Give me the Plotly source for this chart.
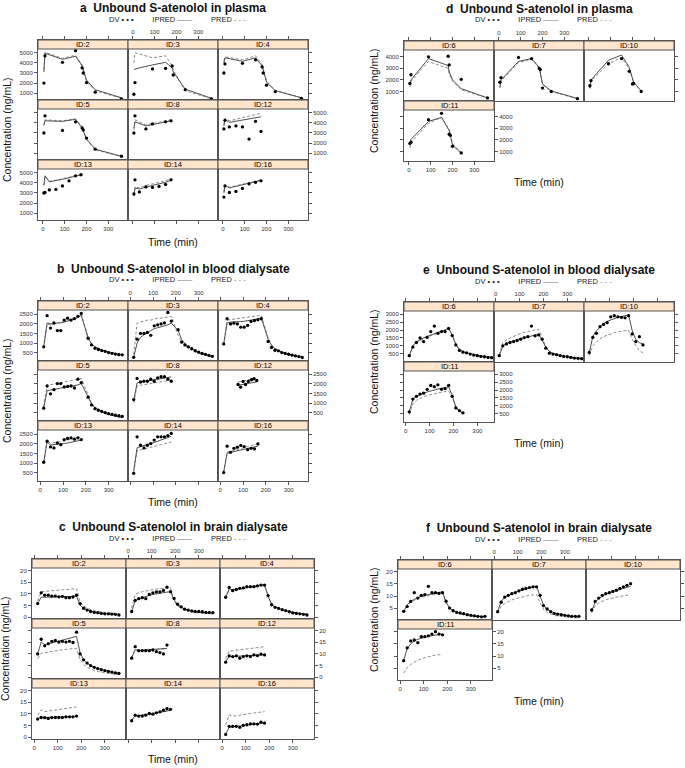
import plotly.graph_objects as go

# ------------------------------------------------------------------
# DATA  (time in min; concentration ng/mL)
# ------------------------------------------------------------------
t_dial_24 = [15, 30, 45, 60, 75, 90, 105, 120, 135, 150, 165, 180,
             195, 210, 225, 240, 255, 270, 285, 300, 315, 330, 345, 360]
t_dial_23 = [15, 30, 45, 60, 75, 90, 105, 120, 135, 150, 165, 180,
             210, 225, 240, 255, 270, 285, 300, 315, 330, 345, 360]
t_dial_16 = [15, 30, 45, 60, 75, 90, 105, 120, 135, 150, 165, 180, 195, 210, 225, 240]
t_dial_12 = [15, 30, 45, 60, 75, 90, 105, 120, 135, 150, 165, 180]
t_dial_11 = [15, 30, 45, 60, 75, 90, 105, 120, 135, 150, 165]

# ---- (a) plasma ----
a2_t = [5, 10, 90, 150, 180, 185, 200, 240, 360]
a2_dv = [2000, 4700, 4050, 5200, 3500, 3000, 2050, 1100, 450]
a2_ip = [3100, 4950, 4350, 4650, 3700, 3400, 2300, 1350, 550]
a2_pr = [3300, 5050, 4450, 4750, 3800, 3300, 2150, 1250, 500]
a3_t = [5, 10, 90, 150, 180, 185, 240, 360]
a3_dv = [900, 2050, 3400, 3450, 3700, 2800, 1350, 450]
a3_ip = [3300, 3400, 3800, 4050, 3500, 3100, 1400, 500]
a3_pr = [4000, 5000, 4500, 4700, 3700, 3300, 1250, 450]
a4_t = [5, 10, 90, 150, 180, 185, 200, 240, 360]
a4_dv = [3000, 3900, 3950, 4300, 3600, 3000, 1800, 1150, 500]
a4_ip = [4000, 4500, 4150, 4500, 3700, 3300, 2100, 1250, 550]
a4_pr = [4200, 4600, 4300, 4700, 3800, 3400, 2200, 1300, 550]
a5_t = [5, 10, 90, 150, 180, 185, 200, 240, 360]
a5_dv = [3000, 4700, 3250, 4100, 3500, 3300, 2500, 1400, 700]
a5_ip = [3800, 4200, 4150, 4350, 3500, 3200, 2400, 1400, 700]
a5_pr = [3700, 4300, 4200, 4400, 3600, 3250, 2350, 1350, 650]
a8_t = [5, 10, 60, 90, 150, 175]
a8_dv = [3000, 4700, 3400, 3900, 4100, 4200]
a8_ip = [3500, 4100, 3700, 3850, 4100, 4200]
a8_pr = [3300, 4300, 3800, 3950, 4200, 4300]
a_inf_t = [5, 10, 30, 60, 90, 120, 150, 175]
a12_dv = [3400, 4250, 3600, 3700, 3600, 2400, 4150, 3150]
a12_ip = [3700, 4350, 4050, 4150, 4250, 4350, 4500, 4600]
a12_pr = [3800, 4450, 4200, 4350, 4500, 4650, 4800, 4950]
a13_dv = [3000, 3050, 3300, 3350, 3700, 4200, 4700, 4800]
a13_ip = [3800, 4700, 4100, 4200, 4350, 4500, 4650, 4800]
a13_pr = [3700, 4600, 4150, 4250, 4400, 4550, 4700, 4850]
a14_dv = [2900, 4300, 3100, 3600, 3550, 3650, 3850, 4300]
a14_ip = [2700, 3500, 3400, 3600, 3750, 3900, 4050, 4250]
a14_pr = [2800, 3600, 3500, 3750, 3900, 4050, 4200, 4400]
a16_dv = [2600, 3700, 3050, 3150, 3450, 3900, 4050, 4200]
a16_ip = [3000, 3800, 3500, 3650, 3800, 3950, 4100, 4250]
a16_pr = [3100, 3750, 3550, 3700, 3850, 4000, 4150, 4300]

# ---- (d) plasma ----
d6_t = [5, 10, 90, 180, 185, 200, 240, 360]
d6_dv = [1700, 2450, 4000, 4050, 3300, None, 2050, 450]
d6_ip = [1600, 2000, 3850, 3250, 2700, 2000, 1250, 450]
d6_pr = [1400, 1900, 3600, 3000, 2500, 1900, 1150, 450]
d7_t = [5, 10, 90, 150, 185, 190, 200, 240, 360]
d7_dv = [1800, 2200, 3950, 3850, 3000, 2900, 1300, 1000, 380]
d7_ip = [1400, 2000, 3600, 3850, 3100, 2500, 1650, 1050, 400]
d7_pr = [1300, 1900, 3500, 3800, 3000, 2400, 1600, 1000, 380]
d10_t = [5, 10, 90, 150, 185, 200, 205, 240]
d10_dv = [1500, 1950, 3400, 3850, 2750, 1650, 1700, 1000]
d10_ip = [1300, 2000, 3700, 4150, 3100, 2000, 1800, 1050]
d10_pr = [1250, 1900, 3400, 3950, 2950, 2000, 1800, 1050]
d11_t = [5, 10, 90, 150, 185, 190, 200, 240]
d11_dv = [1700, 1800, 3750, 4300, 2500, 2400, 1450, 880]
d11_ip = [1700, 2050, 3600, 3950, 2800, 2400, 1550, 850]
d11_pr = [1300, 1800, 3450, 3950, 2900, 2500, 1700, 900]

# ---- (b) blood dialysate ----
b2_dv = [800, 2430, 1780, 2050, 1650, 1650, 2200, 2300, 2200, 2280, 2400, 2550, 1250, 900, 720, 660, 600, 560, 500, 460, 420, 390, 380]
b2_ip = [800, 2050, 2000, 2000, 2050, 2050, 2100, 2150, 2200, 2250, 2350, 2450, 1250, 950, 800, 700, 630, 570, 520, 480, 440, 410, 390]
b2_pr = [750, 2000, 1950, 2000, 2050, 2100, 2150, 2200, 2250, 2300, 2400, 2500, 1300, 950, 800, 700, 620, 560, 510, 470, 430, 400, 380]
b3_dv = [250, 1200, 1500, 1500, 1550, 1400, 1900, 1950, 2000, 2050, 2600, 2150, 1700, 1050, 900, 800, 700, 600, 520, 450, 400, 350, 300]
b3_ip = [250, 1000, 1300, 1450, 1550, 1650, 1750, 1800, 1850, 1900, 1950, 2050, 1650, 1200, 950, 800, 680, 580, 500, 440, 390, 350, 310]
b3_pr = [400, 2050, 2100, 2150, 2200, 2200, 2250, 2300, 2300, 2350, 2350, 2400, 1400, 1050, 850, 700, 600, 520, 460, 410, 370, 330, 300]
b4_dv = [950, 2270, 2000, 2040, 2000, 1830, 1830, 1920, 2130, 2180, 2220, 2270, 1080, 770, 620, 590, 500, 450, 410, 360, 320, 290, 240]
b4_ip = [950, 2050, 2100, 2100, 2100, 2120, 2140, 2160, 2200, 2230, 2260, 2320, 1200, 880, 700, 600, 520, 460, 410, 360, 320, 290, 260]
b4_pr = [900, 2200, 2230, 2260, 2280, 2300, 2320, 2350, 2370, 2400, 2420, 2450, 1250, 900, 720, 620, 540, 470, 420, 370, 330, 300, 270]
b5_dv = [730, 1890, 1480, 1700, 2020, 2020, 1840, 1870, 1890, 1790, 2250, 2070, 1300, 900, 700, 620, 560, 500, 440, 400, 360, 330, 300]
b5_ip = [730, 1650, 1680, 1710, 1740, 1770, 1800, 1830, 1860, 1900, 1950, 2020, 1350, 950, 750, 620, 520, 450, 390, 340, 300, 270, 240]
b5_pr = [800, 1930, 1960, 1990, 2020, 2050, 2080, 2110, 2150, 2190, 2240, 2290, 1450, 1000, 780, 640, 540, 460, 400, 350, 310, 280, 250]
b8_dv = [1180, 2290, 2100, 2140, 2140, 2250, 2140, 2320, 2380, 2380, 2250, 2140]
b8_ip = [1130, 2050, 2100, 2130, 2160, 2190, 2220, 2250, 2280, 2310, 2340, 2370]
b8_pr = [1000, 1900, 1930, 1960, 1990, 2020, 2050, 2080, 2110, 2140, 2170, 2200]
b12_t = [78, 89, 100, 111, 123, 137, 148, 160]
b12_dv = [1970, 1830, 2130, 1970, 2130, 2220, 2270, 2180]
b12_ip = [1930, 1960, 1980, 2000, 2030, 2060, 2080, 2100]
b12_pr = [2100, 2130, 2160, 2190, 2220, 2250, 2290, 2320]
b13_dv = [1040, 2140, 1840, 1790, 2050, 1960, 2230, 2290, 2320, 2250, 2320, 2230]
b13_ip = [1040, 2100, 1950, 1960, 1980, 2000, 2020, 2050, 2080, 2110, 2150, 2200]
b13_pr = [1000, 2200, 2030, 2050, 2080, 2120, 2160, 2200, 2240, 2280, 2330, 2380]
b14_dv = [460, 2370, 1930, 1790, 1930, 2020, 2200, 2370, 2370, 2370, 2430, 2550]
b14_ip = [600, 1800, 1850, 1900, 1960, 2020, 2080, 2140, 2200, 2260, 2320, 2400]
b14_pr = [500, 1650, 1690, 1730, 1770, 1810, 1850, 1900, 1950, 2000, 2050, 2100]
b16_dv = [500, 1880, 1560, 1770, 1830, 1920, 1860, 1700, 1770, 1740, 2000]
b16_ip = [550, 1510, 1560, 1600, 1640, 1680, 1720, 1760, 1800, 1840, 1880]
b16_pr = [500, 1560, 1610, 1660, 1710, 1760, 1810, 1860, 1910, 1960, 2010]

# ---- (e) blood dialysate ----
e6_dv = [380, 920, 1210, 1500, 1270, 1540, 1900, 2250, 1790, 1900, 1900, 2100, 1650, 1060, 710, 600, 560, 480, 420, 380, 330, 310, 270, 250]
e6_ip = [380, 1000, 1250, 1400, 1500, 1600, 1700, 1780, 1850, 1920, 2000, 2100, 1700, 1100, 780, 640, 560, 500, 450, 400, 360, 330, 300, 280]
e6_pr = [350, 950, 1200, 1350, 1450, 1550, 1650, 1720, 1800, 1870, 1950, 2050, 1650, 1050, 750, 620, 540, 480, 430, 390, 350, 320, 290, 270]
e7_dv = [380, 1000, 1120, 1210, 1270, 1330, 1420, 1520, 1580, 2250, 1630, 1690, 1420, 850, 540, 480, 440, 380, 330, 310, 270, 230, 210, 190]
e7_ip = [380, 1000, 1150, 1250, 1320, 1400, 1460, 1520, 1580, 1630, 1680, 1730, 1350, 900, 650, 520, 450, 400, 350, 310, 280, 250, 230, 210]
e7_pr = [420, 1200, 1380, 1500, 1600, 1700, 1780, 1850, 1910, 1960, 2010, 2040, 1500, 950, 650, 500, 420, 360, 310, 270, 240, 210, 190, 170]
e10_dv = [580, 1540, 1790, 2210, 2350, 2460, 2830, 2900, 2830, 2800, 2770, 2900, 1750, 1270, 1580, 1060]
e10_ip = [550, 1600, 1950, 2200, 2400, 2550, 2650, 2750, 2800, 2850, 2900, 2950, 1950, 1400, 1200, 1100]
e10_pr = [400, 1000, 1250, 1450, 1580, 1680, 1760, 1830, 1880, 1930, 1960, 1980, 1400, 1000, 700, 550]
e11_dv = [620, 1430, 1600, 1740, 1800, 2040, 2290, 2210, 2330, 2040, 2090, 2290, 1600, 870, 700, 560]
e11_ip = [620, 1400, 1600, 1720, 1800, 1880, 1950, 2010, 2060, 2110, 2160, 2200, 1650, 950, 700, 550]
e11_pr = [450, 1130, 1350, 1480, 1580, 1650, 1720, 1770, 1820, 1860, 1900, 1940, 1550, 900, 650, 500]

# ---- (c) brain dialysate ----
c2_dv = [5.9, 10.5, 9.5, 9.5, 9.1, 9.1, 8.8, 9.0, 8.4, 8.4, 8.7, 9.5, 5.9, 3.9, 3.1, 2.5, 2.1, 2.0, 1.7, 1.5, 1.5, 1.4, 1.3, 1.0]
c2_ip = [5.9, 8.6, 8.6, 8.7, 8.7, 8.7, 8.8, 8.8, 8.9, 8.9, 9.0, 9.1, 5.2, 3.9, 3.1, 2.6, 2.2, 1.9, 1.7, 1.5, 1.4, 1.3, 1.2, 1.1]
c2_pr = [7.0, 10.9, 11.1, 11.3, 11.4, 11.6, 11.7, 11.8, 11.9, 12.0, 12.2, 12.3, 6.5, 4.9, 3.9, 3.3, 2.8, 2.5, 2.2, 2.0, 1.9, 1.8, 1.7, 1.6]
c3_dv = [2.5, 7.3, 8.0, 8.4, 8.0, 9.8, 10.5, 10.9, 10.9, 11.5, 12.9, 11.0, 8.1, 5.6, 4.5, 3.5, 3.1, 2.8, 2.5, 2.5, 2.4, 2.1, 2.1, 2.0]
c3_ip = [2.5, 7.0, 7.9, 8.5, 9.0, 9.4, 9.8, 10.1, 10.4, 10.6, 10.8, 10.9, 7.5, 5.5, 4.3, 3.5, 3.0, 2.6, 2.3, 2.1, 2.0, 1.9, 1.8, 1.8]
c3_pr = [4.0, 9.8, 10.6, 11.0, 11.3, 11.6, 11.9, 12.1, 12.3, 12.5, 12.6, 12.7, 7.0, 4.9, 3.8, 3.1, 2.6, 2.2, 2.0, 1.8, 1.6, 1.5, 1.5, 1.4]
c4_dv = [8.6, 12.8, 11.4, 11.9, 12.4, 12.6, 13.1, 13.1, 13.1, 13.5, 13.8, 13.8, 9.3, 5.4, 4.3, 3.8, 3.3, 2.9, 2.4, 1.9, 1.7, 1.5, 1.3, 1.0]
c4_ip = [8.6, 12.2, 11.8, 12.0, 12.3, 12.6, 12.9, 13.1, 13.3, 13.5, 13.7, 13.9, 9.0, 5.6, 4.4, 3.7, 3.2, 2.8, 2.4, 2.1, 1.9, 1.7, 1.5, 1.3]
c4_pr = [8.2, 11.6, 11.6, 11.9, 12.2, 12.5, 12.8, 13.0, 13.2, 13.4, 13.6, 13.8, 9.2, 5.8, 4.5, 3.8, 3.3, 2.8, 2.4, 2.1, 1.8, 1.6, 1.4, 1.3]
c5_dv = [10.0, 16.3, 13.5, 14.4, 15.4, 15.8, 15.1, 15.4, 15.1, 15.4, 14.9, 19.3, 10.0, 7.5, 6.1, 5.0, 4.3, 3.75, 3.3, 2.9, 2.5, 2.2, 1.9, 1.7]
c5_ip = [10.0, 15.1, 13.9, 14.3, 14.6, 14.9, 15.3, 15.6, 16.0, 16.4, 16.9, 17.5, 10.5, 7.6, 6.0, 5.0, 4.3, 3.7, 3.3, 2.9, 2.6, 2.3, 2.1, 1.9]
c5_pr = [8.0, 10.3, 10.6, 10.9, 11.2, 11.4, 11.6, 11.8, 12.0, 12.1, 12.3, 12.4, 7.5, 5.5, 4.3, 3.5, 2.9, 2.5, 2.2, 1.9, 1.7, 1.5, 1.4, 1.3]
c8_dv = [8.2, 13.1, 11.4, 11.4, 11.4, 11.4, 11.7, 11.0, 10.6, 10.0, 13.8]
c8_ip = [8.5, 11.9, 11.5, 11.6, 11.7, 11.8, 11.9, 12.0, 12.1, 12.2, 12.4]
c8_pr = [8.3, 11.7, 11.4, 11.5, 11.6, 11.7, 11.8, 11.9, 12.0, 12.1, 12.2]
c12_dv = [6.5, 9.2, 8.9, 9.2, 8.2, 8.9, 9.2, 8.9, 9.6, 9.3, 9.9, 9.6]
c12_ip = [6.8, 8.9, 8.9, 9.0, 9.0, 9.1, 9.2, 9.3, 9.4, 9.5, 9.6, 9.7]
c12_pr = [8.0, 11.3, 11.4, 11.6, 11.8, 12.0, 12.2, 12.4, 12.6, 12.8, 12.9, 13.1]
c13_dv = [7.8, 8.5, 8.4, 8.1, 8.4, 8.5, 8.5, 8.5, 8.8, 8.8, 8.8, 9.1]
c13_ip = [8.0, 8.6, 8.5, 8.5, 8.6, 8.6, 8.7, 8.7, 8.8, 8.8, 8.9, 9.0]
c13_pr = [9.5, 11.8, 11.0, 11.2, 11.4, 11.6, 11.9, 12.1, 12.4, 12.6, 12.8, 13.0]
c14_dv = [7.1, 9.5, 9.1, 9.1, 9.5, 10.2, 9.9, 10.5, 10.9, 11.6, 12.3, 12.0]
c14_ip = [7.3, 9.3, 9.3, 9.5, 9.7, 9.9, 10.2, 10.4, 10.7, 11.0, 11.3, 11.6]
c14_pr = [7.1, 9.2, 9.2, 9.4, 9.6, 9.8, 10.1, 10.3, 10.6, 10.9, 11.2, 11.5]
c16_dv = [1.25, 4.7, 4.7, 4.7, 4.3, 5.1, 5.4, 5.8, 5.8, 5.7, 6.5, 6.1]
c16_ip = [1.3, 4.3, 4.5, 4.7, 4.9, 5.1, 5.3, 5.5, 5.7, 5.8, 6.0, 6.1]
c16_pr = [5.4, 9.6, 9.0, 9.3, 9.5, 9.8, 10.0, 10.2, 10.4, 10.6, 10.8, 11.0]

# ---- (f) brain dialysate ----
f6_dv = [3.75, 5.7, 7.8, 11.4, 9.2, 10.3, 10.6, 14.0, 11.4, 11.4, 11.1, 11.4, 7.9, 5.1, 4.0, 3.3, 3.1, 2.8, 2.4, 2.1, 1.9, 1.7, 1.5, 1.7]
f6_ip = [3.6, 6.4, 7.9, 8.8, 9.4, 9.9, 10.3, 10.7, 11.0, 11.3, 11.5, 11.7, 7.5, 5.2, 4.0, 3.3, 2.8, 2.5, 2.2, 2.0, 1.8, 1.7, 1.6, 1.5]
f6_pr = [3.3, 6.0, 7.5, 8.4, 9.0, 9.5, 9.9, 10.2, 10.5, 10.8, 11.0, 11.2, 7.3, 5.0, 3.9, 3.2, 2.8, 2.4, 2.1, 1.9, 1.7, 1.6, 1.5, 1.4]
f7_dv = [3.6, 7.5, 9.6, 10.3, 11.0, 11.4, 12.1, 12.8, 13.1, 13.5, 13.8, 13.8, 10.3, 6.1, 4.7, 3.6, 2.9, 2.6, 2.4, 2.1, 1.9, 1.7, 1.7, 1.7]
f7_ip = [3.7, 7.8, 9.5, 10.4, 11.0, 11.6, 12.1, 12.6, 13.0, 13.4, 13.7, 14.0, 10.0, 6.2, 4.6, 3.7, 3.1, 2.7, 2.4, 2.1, 1.9, 1.7, 1.6, 1.5]
f7_pr = [3.0, 5.8, 7.0, 7.8, 8.4, 8.9, 9.3, 9.7, 10.0, 10.3, 10.5, 10.7, 7.2, 4.5, 3.3, 2.6, 2.1, 1.8, 1.6, 1.4, 1.3, 1.2, 1.1, 1.0]
f10_dv = [4.3, 7.8, 9.2, 10.3, 11.0, 11.4, 11.9, 12.4, 13.1, 13.8, 14.4, 15.1]
f10_ip = [4.0, 7.5, 9.0, 10.0, 10.8, 11.4, 11.9, 12.4, 12.9, 13.3, 13.6, 13.9]
f10_pr = [3.2, 6.0, 7.2, 7.9, 8.5, 8.9, 9.3, 9.6, 9.9, 10.1, 10.3, 10.5]
f11_dv = [8.1, 13.4, 16.2, 16.6, 15.5, 18.0, 18.0, 18.3, 19.0, 20.0, 19.0, 18.7]
f11_ip = [8.1, 13.1, 15.0, 16.2, 16.9, 17.4, 17.8, 18.1, 18.4, 18.7, 18.9, 19.0]
f11_pr = [3.0, 5.3, 6.6, 7.6, 8.3, 8.9, 9.4, 9.8, 10.1, 10.4, 10.6, 10.7]

# tick labels
x_ticks = [0, 100, 200, 300]
yt_a = [1000, 2000, 3000, 4000, 5000]
yt_d = [1000, 2000, 3000, 4000]
yt_b = [500, 1000, 1500, 2000, 2500]
yt_e = [500, 1000, 1500, 2000, 2500, 3000]
yt_c = [0, 5, 10, 15, 20]
yt_f = [5, 10, 15, 20]

# ------------------------------------------------------------------
# LAYOUT / STYLE
# ------------------------------------------------------------------
W, H = 685, 768
FONT = "Arial, Liberation Sans, Helvetica, sans-serif"
LINE = "#555555"
STRIP = "#FFE5CC"
DV_C, IP_C, PR_C = "#000000", "#505050", "#8c8c8c"
SH, RH = 9, 60  # strip height, row height (px)

groups = [
    dict(letter="a", name="Unbound S-atenolol in plasma", L=38, CW=90, S0=40, kind="3x3",
         yr=(330, 5370), yt=yt_a, xr=(-22, 390), ylx=7, tgap=22,
         panels=[("ID:2", a2_t, a2_dv, a2_ip, a2_pr, 0, 0), ("ID:3", a3_t, a3_dv, a3_ip, a3_pr, 0, 1),
                 ("ID:4", a4_t, a4_dv, a4_ip, a4_pr, 0, 2), ("ID:5", a5_t, a5_dv, a5_ip, a5_pr, 1, 0),
                 ("ID:8", a8_t, a8_dv, a8_ip, a8_pr, 1, 1), ("ID:12", a_inf_t, a12_dv, a12_ip, a12_pr, 1, 2),
                 ("ID:13", a_inf_t, a13_dv, a13_ip, a13_pr, 2, 0), ("ID:14", a_inf_t, a14_dv, a14_ip, a14_pr, 2, 1),
                 ("ID:16", a_inf_t, a16_dv, a16_ip, a16_pr, 2, 2)]),
    dict(letter="d", name="Unbound S-atenolol in plasma", L=404, CW=90, S0=41, kind="2row",
         yr=(180, 4590), yt=yt_d, xr=(-22, 390), ylx=374, tgap=21,
         panels=[("ID:6", d6_t, d6_dv, d6_ip, d6_pr, 0, 0), ("ID:7", d7_t, d7_dv, d7_ip, d7_pr, 0, 1),
                 ("ID:10", d10_t, d10_dv, d10_ip, d10_pr, 0, 2), ("ID:11", d11_t, d11_dv, d11_ip, d11_pr, 1, 0)]),
    dict(letter="b", name="Unbound S-atenolol in blood dialysate", L=38, CW=90, S0=301, kind="3x3",
         yr=(56, 2730), yt=yt_b, xr=(-10, 385), ylx=7, tgap=21,
         panels=[("ID:2", t_dial_23, b2_dv, b2_ip, b2_pr, 0, 0), ("ID:3", t_dial_23, b3_dv, b3_ip, b3_pr, 0, 1),
                 ("ID:4", t_dial_23, b4_dv, b4_ip, b4_pr, 0, 2), ("ID:5", t_dial_23, b5_dv, b5_ip, b5_pr, 1, 0),
                 ("ID:8", t_dial_12, b8_dv, b8_ip, b8_pr, 1, 1), ("ID:12", b12_t, b12_dv, b12_ip, b12_pr, 1, 2),
                 ("ID:13", t_dial_12, b13_dv, b13_ip, b13_pr, 2, 0), ("ID:14", t_dial_12, b14_dv, b14_ip, b14_pr, 2, 1),
                 ("ID:16", t_dial_11, b16_dv, b16_ip, b16_pr, 2, 2)]),
    dict(letter="e", name="Unbound S-atenolol in blood dialysate", L=404, CW=90, S0=302, kind="2row",
         yr=(-20, 3200), yt=yt_e, xr=(-7, 370), ylx=374, tgap=21,
         panels=[("ID:6", t_dial_24, e6_dv, e6_ip, e6_pr, 0, 0), ("ID:7", t_dial_24, e7_dv, e7_ip, e7_pr, 0, 1),
                 ("ID:10", t_dial_16, e10_dv, e10_ip, e10_pr, 0, 2), ("ID:11", t_dial_16, e11_dv, e11_ip, e11_pr, 1, 0)]),
    dict(letter="c", name="Unbound S-atenolol in brain dialysate", L=32, CW=94, S0=559, kind="3x3",
         yr=(-0.7, 21.1), yt=yt_c, xr=(-9, 390), ylx=5, tgap=20,
         panels=[("ID:2", t_dial_24, c2_dv, c2_ip, c2_pr, 0, 0), ("ID:3", t_dial_24, c3_dv, c3_ip, c3_pr, 0, 1),
                 ("ID:4", t_dial_24, c4_dv, c4_ip, c4_pr, 0, 2), ("ID:5", t_dial_24, c5_dv, c5_ip, c5_pr, 1, 0),
                 ("ID:8", t_dial_11, c8_dv, c8_ip, c8_pr, 1, 1), ("ID:12", t_dial_12, c12_dv, c12_ip, c12_pr, 1, 2),
                 ("ID:13", t_dial_12, c13_dv, c13_ip, c13_pr, 2, 0), ("ID:14", t_dial_12, c14_dv, c14_ip, c14_pr, 2, 1),
                 ("ID:16", t_dial_12, c16_dv, c16_ip, c16_pr, 2, 2)]),
    dict(letter="f", name="Unbound S-atenolol in brain dialysate", L=398, CW=94, S0=560, kind="2row",
         yr=(0.2, 21.1), yt=yt_f, xr=(-9, 390), ylx=374, tgap=21,
         panels=[("ID:6", t_dial_24, f6_dv, f6_ip, f6_pr, 0, 0), ("ID:7", t_dial_24, f7_dv, f7_ip, f7_pr, 0, 1),
                 ("ID:10", t_dial_12, f10_dv, f10_ip, f10_pr, 0, 2), ("ID:11", t_dial_12, f11_dv, f11_ip, f11_pr, 1, 0)]),
]


def tick_flags(kind, r, c, nrows):
    xtop = xbot = yl = yrt = None
    if r == 0:
        xtop = "labels" if c == 1 else "ticks"
    if kind == "3x3":
        if r == nrows - 1:
            xbot = "ticks" if c == 1 else "labels"
        if c == 0:
            yl = "labels" if r % 2 == 0 else "ticks"
        if c == 2:
            yrt = "labels" if r % 2 == 1 else "ticks"
    else:
        if r == 0 and c == 0:
            yl = "labels"
        if r == 0 and c == 2:
            yrt = "ticks"
        if r == 1:
            xbot, yl, yrt = "labels", "ticks", "labels"
    return xtop, xbot, yl, yrt


fig = go.Figure()
axes = {}
shapes = []
annots = []
TF = dict(size=6, family=FONT, color="#333333")
SP = "&nbsp;" * 9
k = 0

for g in groups:
    L, CW, S0 = g["L"], g["CW"], g["S0"]
    lo, hi = g["yr"]
    PH = RH - SH
    hi_ext = hi + (hi - lo) * SH / PH
    nrows = max(p[5] for p in g["panels"]) + 1
    for (lab, t, dv, ip, pr, r, c) in g["panels"]:
        k += 1
        xs = "" if k == 1 else str(k)
        x0p, x1p = L + c * CW, L + (c + 1) * CW
        ytop, ybot = S0 + r * RH, S0 + (r + 1) * RH
        common = dict(showline=True, mirror=True, linecolor=LINE, linewidth=1, showgrid=False,
                      zeroline=False, ticks="", showticklabels=False, ticklen=3, tickwidth=1,
                      tickcolor=LINE, tickfont=TF, fixedrange=True)
        xa = dict(domain=[x0p / W, x1p / W], range=list(g["xr"]), anchor="y" + xs,
                  tickvals=x_ticks, **common)
        ya = dict(domain=[1 - ybot / H, 1 - ytop / H], range=[lo, hi_ext], anchor="x" + xs,
                  tickvals=g["yt"], **common)
        xtop, xbot, yl, yrt = tick_flags(g["kind"], r, c, nrows)
        if xtop:
            xa.update(side="top", ticks="outside", showticklabels=(xtop == "labels"))
        elif xbot:
            xa.update(side="bottom", ticks="outside", showticklabels=(xbot == "labels"))
        if yl and yrt:
            main = "right" if yrt == "labels" else "left"
            ya.update(side=main, ticks="outside", showticklabels=True, mirror="ticks")
        elif yl:
            ya.update(side="left", ticks="outside", showticklabels=(yl == "labels"))
        elif yrt:
            ya.update(side="right", ticks="outside", showticklabels=(yrt == "labels"))
        axes["xaxis" + xs] = xa
        axes["yaxis" + xs] = ya

        fig.add_trace(go.Scatter(x=t, y=pr, xaxis="x" + xs, yaxis="y" + xs, mode="lines",
                                 line=dict(color=PR_C, width=1, dash="3px,2px"),
                                 showlegend=False, hoverinfo="skip"))
        fig.add_trace(go.Scatter(x=t, y=ip, xaxis="x" + xs, yaxis="y" + xs, mode="lines",
                                 line=dict(color=IP_C, width=1),
                                 showlegend=False, hoverinfo="skip"))
        fig.add_trace(go.Scatter(x=t, y=dv, xaxis="x" + xs, yaxis="y" + xs, mode="markers",
                                 marker=dict(color=DV_C, size=3.3),
                                 showlegend=False, hoverinfo="skip"))

        shapes.append(dict(type="rect", xref="paper", yref="paper", x0=x0p / W, x1=x1p / W,
                           y0=1 - (ytop + SH) / H, y1=1 - ytop / H, fillcolor=STRIP,
                           line=dict(color=LINE, width=1), layer="above"))
        annots.append(dict(text=lab, xref="paper", yref="paper", x=(x0p + x1p) / 2 / W,
                           y=1 - (ytop + SH / 2) / H, showarrow=False, xanchor="center",
                           yanchor="middle", font=dict(size=7.5, family=FONT, color="#000000")))

    gx_c = (L + 1.5 * CW) / W
    bottom = S0 + nrows * RH
    annots.append(dict(text="<b>" + g["letter"] + "</b>&nbsp;&nbsp;<b>" + g["name"] + "</b>",
                       xref="paper", yref="paper", x=gx_c, y=1 - (S0 - 32) / H, showarrow=False,
                       xanchor="center", yanchor="middle", font=dict(size=12, family=FONT, color="#111")))
    annots.append(dict(text="DV <b>• • •</b>" + SP + "IPRED <span style='color:#777'>——</span>" + SP +
                            "PRED <span style='color:#888'>- - -</span>",
                       xref="paper", yref="paper", x=gx_c + 4 / W, y=1 - (S0 - 21) / H, showarrow=False,
                       xanchor="center", yanchor="middle", font=dict(size=7.5, family=FONT, color="#222")))
    annots.append(dict(text="Time (min)", xref="paper", yref="paper", x=gx_c, y=1 - (bottom + g["tgap"]) / H,
                       showarrow=False, xanchor="center", yanchor="middle",
                       font=dict(size=10.5, family=FONT, color="#111")))
    annots.append(dict(text="Concentration (ng/mL)", xref="paper", yref="paper", x=g["ylx"] / W,
                       y=1 - (S0 + bottom) / 2 / H, showarrow=False, textangle=-90,
                       xanchor="center", yanchor="middle", font=dict(size=10.5, family=FONT, color="#111")))

fig.update_layout(width=W, height=H, margin=dict(l=0, r=0, t=0, b=0),
                  paper_bgcolor="white", plot_bgcolor="white", showlegend=False,
                  shapes=shapes, annotations=annots, **axes)
# remove the browser's default 8px body margin so the figure fills the window exactly
fig.write_html("out.html",
               config={"displayModeBar": False, "staticPlot": True},
               post_script="document.body.style.margin='0';document.body.style.padding='0';"
                           "document.documentElement.style.margin='0';")
